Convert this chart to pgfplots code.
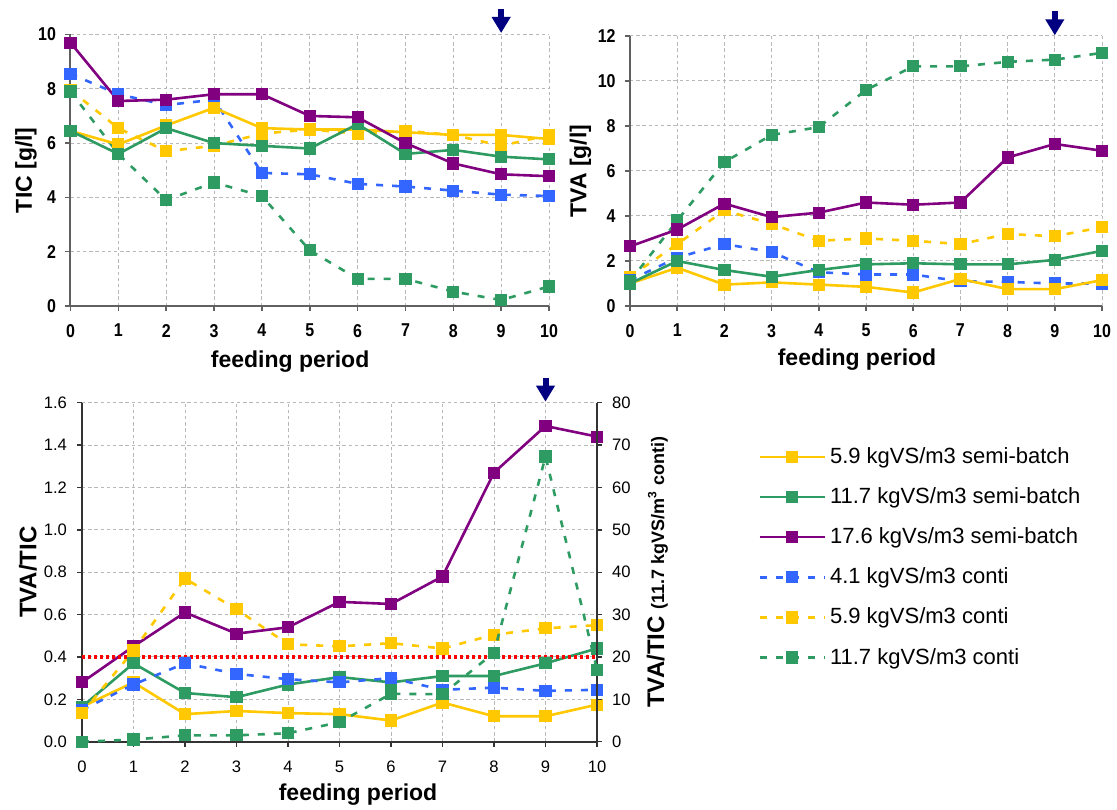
\documentclass[border=0pt]{standalone}
\usepackage{fontspec}
\setmainfont{Liberation Sans}
\newfontfamily\ticknarrow[FakeStretch=0.86]{Liberation Sans}
\usepackage{pgfplots}
\pgfplotsset{compat=1.18}
\usetikzlibrary{arrows.meta}
\definecolor{cy}{HTML}{FFC800}
\definecolor{cg}{HTML}{2E9B62}
\definecolor{cp}{HTML}{800080}
\definecolor{cb}{HTML}{3366FF}
\definecolor{cn}{HTML}{000080}
\tikzset{arr/.style={draw=cn, line width=3pt, -{Triangle[width=9pt,length=8pt]}}}
\pgfplotsset{
  myaxis/.style={
    scale only axis, anchor=south west,
    xmin=0, xmax=10, xtick={0,...,10},
    axis x line*=bottom, axis y line*=left,
    tick align=outside, major tick length=2.5pt,
    grid=major,
    major grid style={draw=black!28, line width=0.5pt, dash pattern=on 1.7pt off 1.4pt},
    axis line style={draw=black!62, line width=1pt},
    tick style={draw=black!62, line width=0.8pt},
    clip=false,
    /pgf/number format/assume math mode=true,
  },
  topticks/.style={
    xticklabel style={font=\ticknarrow\bfseries\fontsize{9.3}{10}\selectfont, yshift=-3pt},
    yticklabel style={font=\ticknarrow\bfseries\fontsize{9.3}{10}\selectfont, xshift=-1.2pt},
  },
  sb/.style={line width=1.3pt, mark=square*, mark size=2.4pt, mark options={solid}},
  ct/.style={line width=1.3pt, dash pattern=on 3.5pt off 4.5pt, mark=square*, mark size=2.4pt, mark options={solid}},
}
\begin{document}
\begin{tikzpicture}
\useasboundingbox (0,0) rectangle (558.5pt,404.5pt);
% ---------------- TIC ----------------
\begin{axis}[myaxis, topticks,
  at={(35.25pt,251.5pt)}, width=239.25pt, height=135.75pt,
  ymin=0, ymax=10, ytick={0,2,...,10},
  xlabel={feeding period}, ylabel={TIC [g/l]},
  every axis x label/.style={at={(axis description cs:0.459,-0.206)}, anchor=center, font=\bfseries\fontsize{11.5}{13}\selectfont},
  every axis y label/.style={at={(axis description cs:-0.093,0.5)}, anchor=center, rotate=90, font=\bfseries\fontsize{11.5}{13}\selectfont},
]
\addplot[ct, cy] coordinates {(0,7.95)(1,6.55)(2,5.7)(3,5.9)(4,6.35)(5,6.5)(6,6.35)(7,6.45)(8,6.3)(9,5.9)(10,6.3)};
\addplot[ct, cb] coordinates {(0,8.55)(1,7.8)(2,7.4)(3,7.6)(4,4.9)(5,4.85)(6,4.5)(7,4.4)(8,4.25)(9,4.1)(10,4.05)};
\addplot[ct, cg] coordinates {(0,7.9)(1,5.6)(2,3.9)(3,4.55)(4,4.05)(5,2.05)(6,1.0)(7,1.0)(8,0.53)(9,0.22)(10,0.72)};
\addplot[sb, cy] coordinates {(0,6.45)(1,5.95)(2,6.65)(3,7.3)(4,6.55)(5,6.5)(6,6.5)(7,6.4)(8,6.3)(9,6.3)(10,6.15)};
\addplot[sb, cg] coordinates {(0,6.45)(1,5.6)(2,6.55)(3,6.0)(4,5.9)(5,5.8)(6,6.7)(7,5.6)(8,5.75)(9,5.5)(10,5.4)};
\addplot[sb, cp] coordinates {(0,9.7)(1,7.55)(2,7.6)(3,7.8)(4,7.8)(5,7.0)(6,6.95)(7,6.0)(8,5.25)(9,4.85)(10,4.78)};
\draw[arr] ([yshift=12pt]axis cs:9,10.055) -- (axis cs:9,10.055);
\end{axis}
% ---------------- TVA ----------------
\begin{axis}[myaxis, topticks,
  at={(315pt,251.5pt)}, width=236pt, height=135pt,
  ymin=0, ymax=12, ytick={0,2,...,12},
  xlabel={feeding period}, ylabel={TVA [g/l]},
  every axis x label/.style={at={(axis description cs:0.481,-0.2)}, anchor=center, font=\bfseries\fontsize{11.5}{13}\selectfont},
  every axis y label/.style={at={(axis description cs:-0.105,0.5)}, anchor=center, rotate=90, font=\bfseries\fontsize{11.5}{13}\selectfont},
]
\addplot[ct, cy] coordinates {(0,1.3)(1,2.75)(2,4.25)(3,3.65)(4,2.9)(5,3.0)(6,2.9)(7,2.75)(8,3.2)(9,3.1)(10,3.5)};
\addplot[ct, cb] coordinates {(0,1.15)(1,2.15)(2,2.75)(3,2.4)(4,1.5)(5,1.4)(6,1.4)(7,1.1)(8,1.07)(9,1.0)(10,1.0)};
\addplot[ct, cg] coordinates {(0,1.1)(1,3.8)(2,6.4)(3,7.6)(4,7.95)(5,9.6)(6,10.65)(7,10.65)(8,10.85)(9,10.95)(10,11.25)};
\addplot[sb, cy] coordinates {(0,1.0)(1,1.7)(2,0.95)(3,1.05)(4,0.95)(5,0.85)(6,0.6)(7,1.2)(8,0.75)(9,0.75)(10,1.15)};
\addplot[sb, cg] coordinates {(0,1.0)(1,2.0)(2,1.6)(3,1.3)(4,1.6)(5,1.85)(6,1.9)(7,1.85)(8,1.85)(9,2.05)(10,2.45)};
\addplot[sb, cp] coordinates {(0,2.65)(1,3.4)(2,4.55)(3,3.95)(4,4.15)(5,4.6)(6,4.5)(7,4.6)(8,6.6)(9,7.2)(10,6.9)};
\draw[arr] ([yshift=12pt]axis cs:9,12.03) -- (axis cs:9,12.03);
\end{axis}
% ---------------- TVA/TIC ----------------
\begin{axis}[myaxis,
  at={(41pt,33.65pt)}, width=257.5pt, height=169.5pt,
  ymin=0, ymax=1.6, ytick={0,0.2,...,1.6},
  axis line style={draw=black!80, line width=0.8pt},
  tick style={draw=black!80, line width=0.7pt},
  yticklabel style={/pgf/number format/.cd, fixed, fixed zerofill, precision=1, /tikz/.cd, font=\fontsize{8.3}{10}\selectfont, xshift=-1.5pt},
  xticklabel style={font=\fontsize{8.3}{10}\selectfont, yshift=-3.5pt},
  xlabel={feeding period}, ylabel={TVA/TIC},
  every axis x label/.style={at={(axis description cs:0.536,-0.157)}, anchor=center, font=\bfseries\fontsize{11.5}{13}\selectfont},
  every axis y label/.style={at={(axis description cs:-0.105,0.5)}, anchor=center, rotate=90, font=\bfseries\fontsize{12}{13}\selectfont},
  legend style={at={(axis description cs:1.301,0.893)}, anchor=north west, draw=none, fill=none,
    font=\fontsize{11}{13}\selectfont, row sep=6.6pt, cells={anchor=west}},
  legend image code/.code={\draw[#1, mark repeat=2, mark phase=2] plot coordinates {(0pt,0pt) (16.25pt,0pt) (32.5pt,0pt)};},
]
\addplot[sb, cy] coordinates {(0,0.165)(1,0.28)(2,0.13)(3,0.145)(4,0.135)(5,0.13)(6,0.10)(7,0.185)(8,0.12)(9,0.12)(10,0.175)};
\addlegendentry{5.9 kgVS/m3 semi-batch}
\addplot[sb, cg] coordinates {(0,0.165)(1,0.37)(2,0.23)(3,0.21)(4,0.27)(5,0.305)(6,0.28)(7,0.31)(8,0.31)(9,0.37)(10,0.44)};
\addlegendentry{11.7 kgVS/m3 semi-batch}
\addplot[sb, cp] coordinates {(0,0.28)(1,0.45)(2,0.61)(3,0.51)(4,0.54)(5,0.66)(6,0.65)(7,0.78)(8,1.27)(9,1.49)(10,1.44)};
\addlegendentry{17.6 kgVs/m3 semi-batch}
\addplot[ct, cb] coordinates {(0,0.15)(1,0.27)(2,0.37)(3,0.32)(4,0.295)(5,0.28)(6,0.30)(7,0.245)(8,0.255)(9,0.24)(10,0.245)};
\addlegendentry{4.1 kgVS/m3 conti}
\addplot[ct, cy] coordinates {(0,0.135)(1,0.43)(2,0.77)(3,0.625)(4,0.46)(5,0.45)(6,0.465)(7,0.44)(8,0.505)(9,0.535)(10,0.55)};
\addlegendentry{5.9 kgVS/m3 conti}
\addlegendimage{ct, cg}
\addlegendentry{11.7 kgVS/m3 conti}
\addplot[red, line width=1.6pt, dash pattern=on 1.6pt off 1.4pt, forget plot] coordinates {(0,0.4)(10,0.4)};
\draw[arr] ([yshift=12pt]axis cs:9,1.605) -- (axis cs:9,1.605);
\end{axis}
\begin{axis}[
  scale only axis, anchor=south west,
  at={(41pt,33.65pt)}, width=257.5pt, height=169.5pt,
  xmin=0, xmax=10, ymin=0, ymax=80, ytick={0,10,...,80},
  axis x line=none, axis y line*=right,
  tick align=outside, major tick length=2.5pt,
  axis line style={draw=black!80, line width=0.8pt},
  tick style={draw=black!80, line width=0.7pt},
  /pgf/number format/assume math mode=true,
  yticklabel style={font=\fontsize{8.3}{10}\selectfont, xshift=1.5pt},
  clip=false,
  ylabel={{\fontsize{12}{13}\selectfont TVA/TIC }{\fontsize{9}{10}\selectfont(11.7 kgVS/m\textsuperscript{3} conti)}},
  every axis y label/.style={at={(axis description cs:1.117,0.5)}, anchor=center, rotate=90, font=\bfseries},
]
\addplot[ct, cg] coordinates {(0,0)(1,0.5)(2,1.5)(3,1.5)(4,2)(5,4.6)(6,11.3)(7,11.2)(8,21)(9,67.3)(10,17)};
\end{axis}
\end{tikzpicture}
\end{document}
